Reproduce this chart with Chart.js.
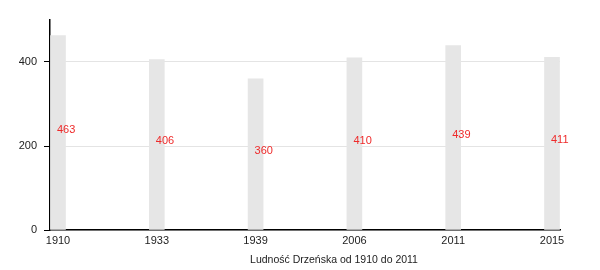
<!DOCTYPE html>
<html lang="pl">
<head>
<meta charset="UTF-8">
<title>Ludność Drzeńska</title>
<script src="https://cdn.jsdelivr.net/npm/chart.js"></script>
<style>
  body { margin: 0; background: #fff; }
  #chart { display: block; }
</style>
</head>
<body>
<canvas id="chart" width="600" height="270"></canvas>
<script>
// population of Drzeńsk by year
const years = ['1910', '1933', '1939', '2006', '2011', '2015'];
const population = [463, 406, 360, 410, 439, 411];
const yTicks = [0, 200, 400];
const axisTitle = 'Ludność Drzeńska od 1910 do 2011';

const FONT = '"Liberation Sans", Arial, sans-serif';

// red value label in the middle of each bar + shifted axis title
const labelsPlugin = {
  id: 'valueLabels',
  afterDatasetsDraw(chart) {
    const ctx = chart.ctx;
    const meta = chart.getDatasetMeta(0);
    ctx.save();
    ctx.font = '11px ' + FONT;
    ctx.fillStyle = '#ee2a2a';
    ctx.textAlign = 'left';
    ctx.textBaseline = 'alphabetic';
    meta.data.forEach((bar, i) => {
      ctx.fillText(String(population[i]), bar.x - 1, (bar.y + bar.base) / 2);
    });
    const area = chart.chartArea;
    ctx.font = '10.5px ' + FONT;
    ctx.fillStyle = '#222';
    ctx.textAlign = 'center';
    ctx.textBaseline = 'middle';
    ctx.fillText(axisTitle, (area.left + area.right) / 2 + 29, area.bottom + 30);
    ctx.restore();
  }
};

new Chart(document.getElementById('chart'), {
  type: 'bar',
  data: {
    datasets: [{
      data: population.map((v, i) => ({ x: i, y: v })),
      backgroundColor: '#e6e6e6',
      borderWidth: 0,
      barThickness: 15
    }]
  },
  options: {
    responsive: false,
    animation: false,
    layout: { padding: { top: 20, right: 40, bottom: 0, left: 0 } },
    plugins: { legend: { display: false }, tooltip: { enabled: false } },
    scales: {
      x: {
        type: 'linear',
        offset: false,
        min: -0.081,
        max: years.length - 1 + 0.081,
        afterBuildTicks: s => { s.ticks = years.map((_, i) => ({ value: i })); },
        afterFit: s => { s.height = 40; },
        grid: { display: false, drawTicks: false, offset: false },
        border: { color: '#000', width: 1.5 },
        ticks: {
          padding: 4,
          color: '#222',
          font: { family: FONT, size: 11 },
          callback: v => years[v],
          maxRotation: 0
        }
      },
      y: {
        min: 0,
        max: 500,
        afterBuildTicks: s => { s.ticks = yTicks.map(v => ({ value: v })); },
        afterFit: s => { s.width = 50; },
        grid: { color: '#e4e4e4', tickColor: '#000', tickLength: 6 },
        border: { color: '#000', width: 1.5 },
        ticks: {
          padding: 7,
          color: '#222',
          font: { family: FONT, size: 11 }
        }
      }
    }
  },
  plugins: [labelsPlugin]
});
</script>
</body>
</html>
